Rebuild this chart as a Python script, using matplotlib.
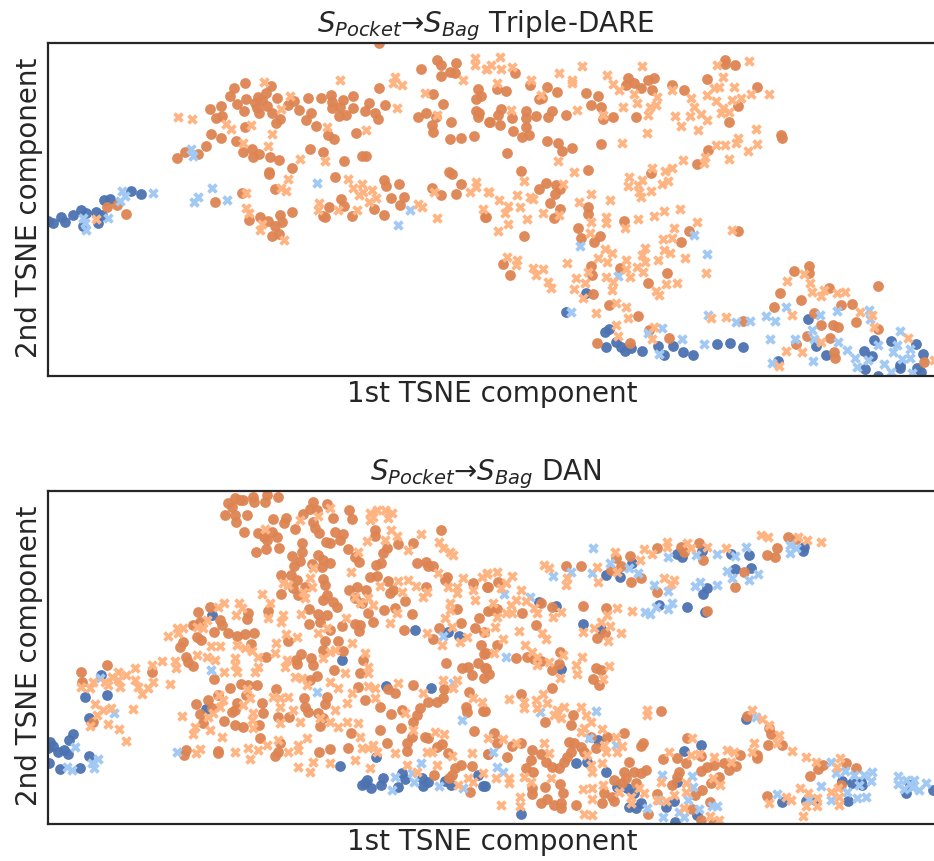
import numpy as np
import matplotlib
matplotlib.use('Agg')
import matplotlib.pyplot as plt

W, H = 934, 861

# points, in 3x crop units; crops start at x=40 (left) and x=484 (right)
top_left_src = [(25,663),(38,670),(62,650),(75,665),(100,645),(123,630),(138,640),(167,635),(185,645),(175,668),(130,677),(192,600),(210,597),(272,573),(302,582)]
top_left_src_x = [(340,580),(245,573),(255,588),(240,602),(130,655),(135,670),(138,690),(205,655),(452,447),(460,467),(515,565),(475,590),(461,607),(561,599),(831,550),(1110,630),(1074,675)]
top_left_tgt = [(1018,130),(202,620),(230,614),(258,642),(410,474),(434,457),(473,463),(497,437),(514,402),(544,415),(587,424),(610,457),(637,446),(638,472),(658,462),(691,471),(718,479),(686,515),(687,522),(757,505),(811,448),(848,455),(912,482),(967,467),(977,467),(885,531),(705,567),(605,580),(526,605),(756,635),(627,661),(660,652),(685,664),(720,645),(725,665),(705,677),(697,708),(716,703),(866,622),(850,648),(856,652),(902,598),(913,617),(937,648),(1003,627),(1031,645),(1031,540),(1037,558),(1077,551),(1053,595),(1093,592),(1079,616),(1176,563),(1204,586),(1247,581),(1263,553),(1227,515),(1235,522),(1334,651),
    (510,327),(542,318),(527,354),(547,347),(571,288),(583,265),(615,250),(694,257),(591,313),(612,333),(618,297),(655,290),(677,280),(665,300),(645,310),(650,325),(658,340),(682,317),(697,338),(711,293),(720,357),(707,368),(614,382),(743,316),(762,303),(776,331),(803,295),(814,338),(798,360),(829,377),(843,294),(874,285),(875,305),(875,323),(908,299),(899,320),(896,348),(917,344),(940,289),(938,325),(988,310),(976,334),(1006,340),(1014,357),(1016,263),(1034,316),(863,404),(883,418),(948,398),
    (1144,208),(1190,179),(1204,196),(1249,190),(1229,216),(1245,219),(1204,228),(1178,283),(1208,313),(1134,352),(1159,339),(1187,350),(1175,374),(1180,397),(1232,365),(1229,417),(1263,413),(1301,407),(1315,267),(1323,288),(1307,297),(1309,333),(1316,340),(1313,352),(1347,366)]
top_left_tgt_x = [(413,352),(455,358),(558,371),(573,386),(634,375),(671,247),(751,287),(723,328),(695,403),(683,439),(608,429),(780,477),(745,536),(855,484),(862,380),(900,240),(977,391),(1064,232),(1059,250),(1087,255),(1072,325),(1156,278),(1191,345),(1269,240),(1305,175),(1305,195),(1337,207),(168,657),(617,580),(724,565),(737,573),(617,625),(627,640),(665,672),(660,690),(733,719),(836,608),(833,630),(893,630),(950,629),(924,538),(940,565),(967,552),(970,575),(957,585),(995,570),(1008,593),(988,605),(1135,612),(1145,620),(1183,577),(1192,655),(1307,545),(1307,560),(1290,577),(1330,627),(1345,575)]

top_right_src = [(306,880),(245,935),(363,996),(375,987),(397,1027),(410,1040),(422,1052),(441,1045),(367,1042),(474,1053),(521,1037),(541,1066),(566,1038),(596,1055),(626,1064),(698,1032),(739,1030),(777,1041),(973,957),(997,1037),(1027,1064),(882,1083),(1140,1053),(1163,1068),(1171,1020),(1143,1107),(1182,1127),(1221,1024),(1296,1033),(1317,1063),(1248,1095),(1249,1105),(1300,1105),(1312,1115)]
top_right_src_x = [(288,737),(630,706),(670,763),(403,827),(262,937),(493,1000),(533,984),(593,1018),(660,1031),(525,1062),(672,945),(757,967),(798,963),(845,948),(872,962),(906,922),(857,1016),(932,1016),(1007,946),(1060,934),(985,990),(990,1018),(1063,1027),(1089,1049),(1113,1075),(1120,1100),(1153,1080),(1183,1035),(1155,930),(1157,958),(863,1090),(988,1083),(1248,994),(1240,1035),(1228,1057),(1277,1047),(1277,1075),(1255,1077),(1200,1093),(1222,1115),(1283,1120)]
top_right_tgt = [(93,218),(40,268),(65,273),(137,255),(190,262),(219,277),(165,297),(175,295),(307,279),(343,288),(321,316),(350,320),(432,235),(450,248),(427,255),(472,265),(505,269),(493,241),(511,234),(565,256),(599,269),(669,237),(724,180),(724,193),(753,195),(819,260),(763,318),(736,365),(52,327),(42,345),(47,375),(17,365),(85,355),(126,333),(127,355),(127,380),(135,405),(113,412),(87,394),(157,347),(192,352),(205,332),(246,344),(357,358),(386,351),(456,350),(190,423),(222,430),(235,452),(265,444),(351,433),(70,458),(890,405),(893,414),(673,450),(640,492),(500,520),(311,511),(110,514),(186,549),(165,567),(216,556),(228,568),(213,583),(197,608),(228,626),(211,655),(6,651),(313,622),(313,643),(420,664),(282,683),(292,715),(329,727),(347,709),(120,709),(592,727),(615,694),(763,693),(58,791),(77,824),(322,799),(325,825),(407,805),(550,819),(492,850),(327,883),(374,916),(462,948),(495,990),(554,1014),(438,1030),(339,1029),(778,963),(889,880),(929,812),(974,797),(975,818),(871,922),(950,901),(990,939),(1034,865),(1072,915),(1103,913),(1182,858),(1115,965),(1048,975),(1063,980),(1010,975),(968,1008),(937,1033),(1037,1013),(1050,1055),(1054,1075),(1182,988),(1319,1085)]
top_right_tgt_x = [(48,170),(20,195),(50,208),(83,202),(8,208),(40,250),(142,240),(225,220),(295,198),(263,240),(263,250),(370,226),(388,253),(405,270),(473,198),(450,283),(458,310),(417,320),(497,320),(520,290),(517,315),(493,345),(563,270),(620,295),(630,320),(650,342),(669,360),(572,349),(619,349),(590,377),(641,391),(489,398),(414,428),(279,331),(358,345),(170,285),(80,330),(700,195),(796,182),(717,230),(690,265),(705,260),(668,285),(750,260),(697,303),(745,300),(770,295),(800,283),(856,281),(717,325),(735,335),(710,340),(815,388),(763,415),(757,428),(818,432),(792,452),(697,435),(722,435),(735,476),(597,481),(662,470),(660,490),(565,503),(543,513),(503,505),(434,532),(432,558),(475,540),(462,555),(465,575),(500,572),(470,590),(535,552),(553,543),(223,484),(270,517),(120,543),(238,553),(15,575),(45,600),(72,618),(62,640),(109,621),(99,585),(137,590),(148,598),(72,673),(42,693),(130,658),(178,638),(225,645),(322,581),(285,606),(377,600),(541,632),(587,628),(510,647),(463,657),(365,650),(367,668),(320,665),(422,685),(640,667),(571,685),(745,690),(317,700),(537,718),(563,715),(362,747),(385,760),(342,775),(370,787),(425,780),(482,745),(475,765),(540,750),(557,758),(523,781),(603,775),(484,785),(70,772),(100,780),(96,795),(148,805),(178,808),(155,825),(248,790),(192,847),(200,865),(277,835),(303,850),(270,867),(313,817),(366,832),(388,845),(385,870),(427,808),(437,830),(458,800),(477,817),(546,852),(579,850),(665,818),(515,872),(525,885),(296,893),(335,940),(396,908),(427,920),(431,955),(397,975),(402,1007),(503,1017),(510,982),(681,955),(726,952),(910,843),(960,823),(978,848),(984,877),(1010,887),(1020,870),(1060,880),(1082,875),(923,945),(1128,937),(1163,945),(1170,980),(905,1053),(955,1055),(1012,1027),(885,1098),(1272,1015),(1350,1080)]

bot_left_src = [(30,875),(38,888),(25,895),(100,853),(87,870),(55,905),(72,900),(83,912),(27,938),(60,957),(121,953),(148,918),(135,742),(201,734),(184,675),(147,804),(515,495),(497,778),(907,629),(1125,540),(1224,547),(1256,557),(1038,708),(1174,715),(901,947),(1007,922),(975,1000),(992,1015),(965,1005),(980,990),(1028,985),(1023,1005),(1075,1010),(1085,970),(1095,988),(1145,985),(1150,1008),(1165,995),(1215,993),(1232,1005),(1330,1008),(1315,975)]
bot_left_src_x = [(105,890),(180,685),(222,790),(80,950),(95,960),(163,955),(155,938),(175,928),(410,905),(514,661),(830,726),(1208,557),(1265,810),(1240,700),(1065,980),(1055,1020),(1115,970),(1122,997),(1143,938),(1196,1007),(1270,1015)]
bot_left_tgt = [(585,145),(565,160),(575,172),(600,150),(610,150),(640,140),(642,155),(680,135),(675,155),(713,142),(555,195),(585,195),(587,217),(622,195),(612,245),(653,250),(648,307),(678,297),(680,270),(672,260),(695,245),(712,262),(718,293),(700,207),(738,203),(733,220),(765,237),(790,192),(818,157),(810,178),(830,180),(862,162),(880,203),(927,180),(935,208),(818,215),(825,235),(838,250),(857,275),(870,280),(885,247),(908,252),(900,270),(786,280),(785,305),(756,318),(780,333),(762,347),(816,343),(835,315),(848,330),(870,338),(847,352),(924,297),(945,320),(957,337),(1005,240),(1005,258),(1040,295),(1030,310),(1008,345),(1022,340),(1075,283),(1120,278),(1202,241),(1132,338),(1157,335),(1165,348),(1178,347),(722,376),(752,376),(722,432),(770,390),(760,415),(775,435),(795,410),(848,387),(855,405),(848,450),(860,435),(880,455),(890,472),(990,382),(1012,378),(1045,392),(928,420),(952,412),(978,420),(945,445),(965,460),(985,490),(1000,515),(1032,480),(1050,430),(1060,420),(1065,475),(1095,453),(1115,492),(1157,412),(1215,390),(1222,382),(1300,400),(1342,410),(1250,478),(1345,483),
    (473,486),(510,471),(625,490),(622,508),(683,482),(806,476),(835,492),(862,495),(840,515),(806,522),(870,540),(905,528),(945,523),(960,525),(957,542),(1092,539),(1197,535),(1262,520),(1305,533),(1318,505),(1332,545),(1178,568),(1323,584),(1333,612),
    (460,525),(480,515),(540,510),(545,525),(523,547),(565,550),(590,558),(615,552),(642,548),(470,560),(482,570),(430,575),(420,592),(437,620),(445,635),(460,647),(632,583),(677,620),(745,574),(855,573),(893,573),(908,602),(848,600),(782,612),(768,630),(770,642),(812,625),(818,645),(968,630),(1217,640),(1265,653),(1285,650),(1295,675),(1315,640),(1335,655),(882,660),(960,670),(830,677),(810,690),(122,667),(127,695),(202,645),(337,665),(523,688),
    (570,713),(603,703),(625,705),(650,705),(618,735),(708,716),(535,735),(792,745),(860,740),(855,763),(955,710),(1045,718),(1065,730),(1118,705),(975,750),(1020,770),(1052,792),(1085,780),(1212,717),(1288,727),(1277,770),(1280,785),(1330,784),
    (468,762),(505,750),(480,792),(517,775),(590,760),(585,780),(575,785),(665,760),(670,790),(714,800),(747,800),(795,770),(805,785),(835,790),(850,805),(840,828),(552,812),(490,820),(585,826),(610,832),(656,824),(160,815),(933,848),(1020,841),(1082,835),(1140,775),(1130,795),(1120,815),(1190,755),(1210,745),(1165,757),(1302,843),
    (660,864),(720,880),(715,905),(705,918),(437,900),(432,915),(535,902),(535,908),(836,907),(870,898),(923,895),(1042,878),(1100,902),(1115,860),(1100,878),(1155,860),(1165,865),(1190,890),(1205,882),(1225,910),(1345,913),(1183,976),(1245,955),(1262,945),(1235,975),(1228,985),(1297,948),(1290,1025)]
bot_left_tgt_x = [(383,557),(410,533),(428,535),(415,550),(500,510),(470,530),(490,535),(535,472),(553,460),(597,460),(605,475),(587,495),(665,432),(690,460),(685,503),(728,495),(722,515),(782,492),(918,503),(1050,520),(738,553),(772,560),(708,580),(705,610),(935,580),(590,585),(615,595),(635,603),(512,587),(540,587),(470,615),(500,620),(525,630),(655,620),(585,625),(585,645),(590,665),(553,665),(405,633),(407,655),(365,632),(337,645),(285,655),(235,665),(258,675),(215,680),(235,690),(195,695),(160,695),(240,712),(205,705),(123,710),(150,715),(285,690),(295,710),(305,733),(325,715),(340,695),(390,702),(278,777),(165,762),(190,780),(213,775),(170,795),(150,828),(203,822),(237,838),(258,873),(655,650),(645,665),(740,630),(735,650),(850,625),(870,605),(885,600),(975,610),(985,650),(985,670),(765,680),(785,685),(800,705),(870,695),(915,670),(895,715),(935,730),(985,707),(1005,715),(1075,700),(1005,745),(920,760),(885,780),(1150,730),(1250,690),(1240,715),(1300,745),(1325,755),(1210,690),
    (730,400),(745,405),(810,385),(815,410),(790,425),(795,445),(1020,408),(1075,392),(1105,390),(1128,408),(1085,425),(1150,440),(1160,425),(1195,368),(1270,383),(1325,380),(1340,370),(1225,412),(1250,410),(1250,430),(1300,420),(1305,450),(1230,460),(1215,505),(1235,530),(1205,585),(1160,550),(1260,575),(1280,560),(1230,480),(1070,490),(960,460),(1000,465),(985,445),(945,440),(835,550),(860,535),(1000,200),(1010,180),(990,190),(1035,180),(1055,188),(990,210),(1045,205),(780,210),(835,198),(675,237),(870,175),(955,305),(980,273),(1035,270),(1052,240),(1072,257),(1105,300),(1142,253),(1197,275),(1210,295),(1230,305),(1240,315),(820,355),(933,365),
    (536,735),(550,750),(540,770),(520,790),(505,800),(465,830),(460,852),(510,840),(425,798),(545,860),(620,716),(630,745),(610,765),(640,790),(635,810),(640,835),(700,740),(720,745),(745,740),(760,780),(720,770),(720,820),(780,815),(840,805),(870,815),(895,830),(920,815),(955,820),(960,860),(1000,885),(985,895),(965,895),(1010,905),(1065,910),(1095,790),(1120,840),(1185,845),(1212,852),(1175,905),(1160,905),(1235,917),(1297,910),(715,870),(680,885),(655,900),(625,895),(800,865),(775,885),(775,900),(745,905),(585,905),(630,928),(480,897),(468,910),(775,950),(810,965),(820,935),(870,940),(945,930),(990,955),(1100,945),(1130,965),(1190,945),(1255,1005),(1300,995),(1285,985),(1330,970),(1345,865)]

bot_right_src = [(655,302),(580,312),(595,322),(740,312),(796,314),(753,356),(801,355),(960,290),(958,303),(445,338),(365,374),(408,381),(670,415),(657,433),(526,465),(610,471),(663,487),(165,457),(215,468),(296,523),(350,538),(232,657),(785,808),(342,870),(650,884),(600,903),(277,940),(310,937),(365,965),(580,995),(430,1013),(400,1010),(450,1030),(435,1072),(457,1075),(470,1060),(545,1072),(570,1053),(573,1115),(640,1095),(110,1092),(3,1008),(893,1055),(965,1052),(992,1050),(1075,992),(1105,998),(1130,995),(1135,1005),(1093,1052),(1265,1030),(1277,1005),(1348,1020)]
bot_right_src_x = [(327,295),(553,320),(635,315),(700,313),(753,318),(785,292),(918,285),(935,295),(918,308),(378,340),(323,368),(435,355),(463,370),(262,367),(208,377),(510,405),(553,423),(633,407),(648,397),(700,405),(730,363),(743,383),(796,390),(823,372),(60,433),(138,440),(483,485),(497,493),(515,472),(552,477),(565,458),(65,622),(168,787),(335,783),(815,802),(315,865),(395,885),(28,905),(40,950),(58,967),(535,975),(625,978),(627,1010),(612,1050),(405,1025),(490,1075),(525,1050),(538,1100),(600,1100),(585,1085),(645,1078),(685,1068),(700,1068),(880,1033),(975,1048),(1010,1008),(1040,1050),(1042,935),(1057,970),(1082,962),(1110,975),(1140,975),(1165,965),(1162,993),(1090,1025),(1125,1005),(1120,1045),(1145,1040),(1243,978),(1243,1003),(1265,990),(1290,990),(1285,1010),(1305,1020),(1327,998),(1260,1018)]
bot_right_tgt = [(520,295),(590,292),(600,305),(645,280),(657,330),(912,262),(935,267),(850,315),(872,320),(880,295),(438,318),(397,325),(410,348),(380,360),(246,349),(290,348),(440,397),(470,383),(520,427),(781,365),(753,410),(670,483),(12,410),(42,396),(25,480),(38,476),(115,490),(170,460),(203,470),(298,468),(365,473),(155,525),(340,563),(362,550),(40,585),(5,610),(95,625),(130,622),(150,628),(170,633),(228,606),(224,641),(204,660),(335,653),(350,659),(327,687),(346,705),(205,713),(110,731),(5,655),(15,672),(0,683),(3,782),(530,783),(266,795),(184,817),(261,826),(790,798),(855,835),(860,852),(853,885),(895,885),(820,925),(820,915),(30,850),(40,880),(110,880),(85,888),(12,912),(70,922),(143,900),(172,913),(142,930),(127,953),(147,965),(185,935),(205,950),(225,955),(240,935),(255,875),(270,880),(290,890),(320,860),(420,850),(470,888),(478,880),(370,860),(262,905),(250,920),(300,905),(335,895),(435,937),(487,960),(450,965),(420,965),(390,990),(425,985),(415,1000),(470,970),(457,998),(608,865),(538,928),(578,925),(605,940),(585,965),(580,980),(565,1005),(650,918),(768,916),(757,949),(735,960),(720,940),(690,945),(670,950),(652,963),(706,980),(680,1000),(653,1020),(632,1035),(1003,957),(1018,945),(1085,938),(1115,955),(1072,1005),(978,979),(848,1038),(228,1002),(238,1030),(182,1010),(143,1015),(143,1033),(170,1060),(188,1047),(210,1065),(230,1060),(230,1073),(276,1065),(355,1060),(360,1030),(385,1040),(390,1053),(520,1033),(492,1092),(625,1077),(677,1055),(650,1110),(687,1122)]
bot_right_tgt_x = [(180,345),(195,353),(10,373),(40,367),(85,378),(65,400),(50,415),(250,385),(245,405),(342,397),(392,305),(338,352),(400,365),(468,330),(503,312),(480,298),(550,275),(550,292),(610,278),(620,295),(670,290),(725,295),(830,255),(853,260),(943,260),(970,270),(1012,275),(540,385),(570,390),(562,403),(112,420),(95,450),(125,452),(28,460),(80,465),(65,490),(85,490),(40,500),(150,475),(160,490),(207,500),(230,485),(400,473),(445,482),(368,495),(352,515),(377,528),(330,535),(297,545),(410,550),(373,572),(33,532),(104,542),(175,550),(187,568),(58,568),(3,545),(122,585),(30,610),(145,605),(158,620),(158,645),(195,635),(237,615),(295,622),(277,645),(280,673),(227,685),(375,647),(358,687),(75,747),(120,755),(120,775),(155,750),(160,775),(177,733),(190,760),(240,770),(220,780),(210,795),(232,805),(290,772),(305,795),(490,780),(490,795),(803,780),(835,808),(855,825),(885,855),(880,880),(810,880),(805,905),(925,902),(965,920),(997,935),(1067,925),(1060,950),(320,815),(300,835),(290,845),(355,838),(395,862),(415,888),(360,885),(398,905),(365,905),(180,878),(195,908),(95,880),(58,868),(310,915),(355,940),(320,945),(325,965),(200,985),(120,980),(140,995),(75,985),(75,1000),(35,985),(555,905),(625,865),(730,900),(750,905),(740,935),(690,922),(620,915),(645,912),(530,995),(688,985),(708,1005),(605,1000),(605,1025),(298,1017),(323,1015),(323,1048),(358,1005),(405,1025),(465,1015),(480,1030),(440,1040),(440,1060),(520,1050),(545,1052),(570,1035),(600,1075),(50,1065),(108,1040),(108,1068),(300,1093),(323,1095),(677,1098),(705,1110),(905,1040),(922,1050),(948,1013),(973,1030),(1000,1045),(1000,1068),(965,1068),(958,1097),(1040,1025),(1062,1015),(1065,1065),(1065,1040),(855,1060)]

titles = ['$S_{Pocket}$→$S_{Bag}$ Triple-DARE', '$S_{Pocket}$→$S_{Bag}$ DAN']
xlabel = '1st TSNE component'
ylabel = '2nd TSNE component'

INK = '#262626'
BLUE, ORANGE, LIGHT_BLUE, LIGHT_ORANGE = '#4C72B0', '#DD8452', '#A1C9F4', '#FFB482'


def merge(left, right):
    # crop units back to picture pixels
    a = np.array(left, dtype=float)
    b = np.array(right, dtype=float)
    x = np.r_[40 + a[:, 0] / 3, 484 + b[:, 0] / 3]
    y = np.r_[a[:, 1] / 3, b[:, 1] / 3]
    return x, y


def panel(fig, top, bottom, title, groups):
    ax = fig.add_axes([47.5 / W, 1 - bottom / H, (937 - 47.5) / W, (bottom - top) / H])
    # crops were taken at y=0 and y=450, so the panel's window is given in crop pixels
    ax.set_xlim(47.5, 937)
    ax.set_ylim(bottom - groups['yoff'], top - groups['yoff'])
    ax.scatter(*groups['src'], c=BLUE, marker='o', s=60, linewidths=0, alpha=0.95)
    ax.scatter(*groups['tgt'], c=ORANGE, marker='o', s=60, linewidths=0, alpha=0.95)
    ax.scatter(*groups['src_x'], c=LIGHT_BLUE, marker='X', s=58, linewidths=0)
    ax.scatter(*groups['tgt_x'], c=LIGHT_ORANGE, marker='X', s=58, linewidths=0)
    ax.set_xticks([])
    ax.set_yticks([])
    for s in ax.spines.values():
        s.set_color(INK)
        s.set_linewidth(1.6)
    ax.set_title(title, fontsize=20, color=INK, pad=2, x=0.493)
    ax.set_xlabel(xlabel, fontsize=20, color=INK, labelpad=3)
    ax.set_ylabel(ylabel, fontsize=20, color=INK, labelpad=3, y=0.505)


fig = plt.figure(figsize=(W / 100, H / 100), dpi=100)
panel(fig, 43, 376, titles[0], {
    'yoff': 0,
    'src': merge(top_left_src, top_right_src),
    'src_x': merge(top_left_src_x, top_right_src_x),
    'tgt': merge(top_left_tgt, top_right_tgt),
    'tgt_x': merge(top_left_tgt_x, top_right_tgt_x),
})
panel(fig, 491, 824, titles[1], {
    'yoff': 450,
    'src': merge(bot_left_src, bot_right_src),
    'src_x': merge(bot_left_src_x, bot_right_src_x),
    'tgt': merge(bot_left_tgt, bot_right_tgt),
    'tgt_x': merge(bot_left_tgt_x, bot_right_tgt_x),
})
fig.savefig('out.png', dpi=100)
